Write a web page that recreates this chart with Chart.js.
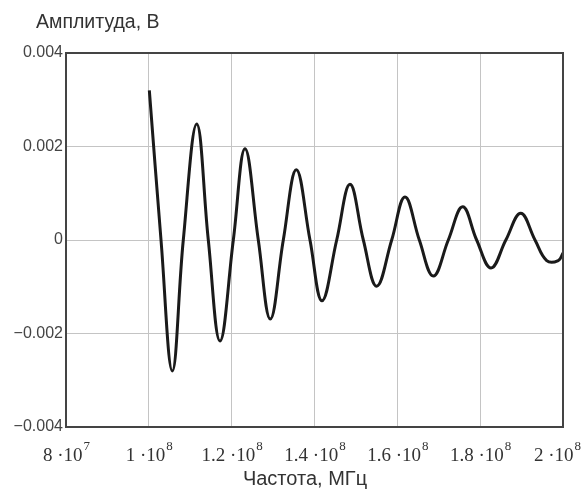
<!DOCTYPE html>
<html>
<head>
<meta charset="utf-8">
<script src="https://cdn.jsdelivr.net/npm/chart.js@4/dist/chart.umd.min.js"></script>
<style>
  html, body { margin: 0; padding: 0; background: #fff; }
</style>
</head>
<body>
<canvas id="myChart" width="584" height="493"></canvas>
<script>
// Частота (Гц) и амплитуда (В): пики, нули, впадины
const freq = [1.0012e8, 1.0294e8, 1.0567e8, 1.0832e8, 1.1156e8, 1.1436e8, 1.1718e8, 1.2040e8,
  1.2322e8, 1.2643e8, 1.2933e8, 1.3247e8, 1.3561e8, 1.3891e8, 1.4181e8, 1.4536e8,
  1.4857e8, 1.5179e8, 1.5501e8, 1.5864e8, 1.6185e8, 1.6531e8, 1.6869e8, 1.7231e8,
  1.7578e8, 1.7915e8, 1.8262e8, 1.8620e8, 1.8979e8, 1.9324e8, 1.9606e8, 1.9886e8, 2.0e8];
const amp = [0.0032, 0, -0.0028, 0, 0.00248, 0, -0.00216, 0,
  0.00195, 0, -0.00169, 0, 0.0015, 0, -0.0013, 0,
  0.00119, 0, -0.00099, 0, 0.00092, 0, -0.00077, 0,
  0.00071, 0, -0.0006, 0, 0.00057, 0, -0.00044, -0.00044, -0.00028];

const xTicks = [8e7, 1e8, 1.2e8, 1.4e8, 1.6e8, 1.8e8, 2e8];
const yTicks = [-0.004, -0.002, 0, 0.002, 0.004];
const yTitle = 'Амплитуда, В';
const xTitle = 'Частота, МГц';

const points = freq.map((f, i) => ({ x: f, y: amp[i] }));

// рамка вокруг области графика, подписи оси X со степенью, заголовки осей
const framePlugin = {
  id: 'frame',
  afterDatasetsDraw(chart) {
    const { ctx, chartArea: a } = chart;
    ctx.save();
    ctx.strokeStyle = '#444';
    ctx.lineWidth = 2;
    ctx.strokeRect(a.left, a.top, a.right - a.left, a.bottom - a.top);
    ctx.restore();
  },
  afterDraw(chart) {
    const { ctx, chartArea: a } = chart;
    const xs = chart.scales.x;
    ctx.save();
    ctx.fillStyle = '#333';
    ctx.textBaseline = 'alphabetic';
    ctx.textAlign = 'left';
    xs.ticks.forEach(t => {
      const exp = Math.floor(Math.log10(t.value) + 1e-9);
      const mant = +(t.value / Math.pow(10, exp)).toFixed(2);
      const base = mant + ' \u00b710';
      ctx.font = '19px "Liberation Serif"';
      const wb = ctx.measureText(base).width;
      ctx.font = '13px "Liberation Serif"';
      const we = ctx.measureText(String(exp)).width;
      let x0 = xs.getPixelForValue(t.value) - (wb + we) / 2;
      x0 = Math.min(x0, chart.width - 3 - wb - we - 1);
      ctx.font = '19px "Liberation Serif"';
      ctx.fillText(base, x0, a.bottom + 34);
      ctx.font = '13px "Liberation Serif"';
      ctx.fillText(String(exp), x0 + wb + 1, a.bottom + 23);
    });
    ctx.font = '19.5px "Liberation Sans"';
    ctx.fillText(yTitle, 36, 28);
    ctx.textAlign = 'center';
    ctx.font = '20px "Liberation Sans"';
    ctx.fillText(xTitle, 305, 485);
    ctx.restore();
  }
};

new Chart(document.getElementById('myChart'), {
  type: 'line',
  data: {
    datasets: [{
      data: points,
      borderColor: '#1a1a1a',
      borderWidth: 3,
      pointRadius: 0,
      fill: false,
      tension: 0.4
    }]
  },
  options: {
    responsive: false,
    animation: false,
    devicePixelRatio: 1,
    layout: { padding: { top: 53, right: 21, left: 0, bottom: 0 } },
    plugins: { legend: { display: false }, tooltip: { enabled: false } },
    scales: {
      x: {
        type: 'linear',
        min: 8e7,
        max: 2e8,
        afterBuildTicks: s => { s.ticks = xTicks.map(v => ({ value: v })); },
        afterFit: s => { s.height = 66; },
        ticks: { display: false },
        grid: { color: '#c4c4c4', lineWidth: 1, drawTicks: false },
        border: { display: false }
      },
      y: {
        min: -0.004,
        max: 0.004,
        afterBuildTicks: s => { s.ticks = yTicks.map(v => ({ value: v })); },
        afterFit: s => { s.width = 66; },
        ticks: {
          padding: 3,
          color: '#444',
          font: { family: '"Liberation Sans"', size: 16 },
          callback: v => v === 0 ? '0' : v.toFixed(3).replace('-', '\u2212')
        },
        grid: { color: '#c4c4c4', lineWidth: 1, drawTicks: false },
        border: { display: false }
      }
    }
  },
  plugins: [framePlugin]
});
</script>
</body>
</html>
